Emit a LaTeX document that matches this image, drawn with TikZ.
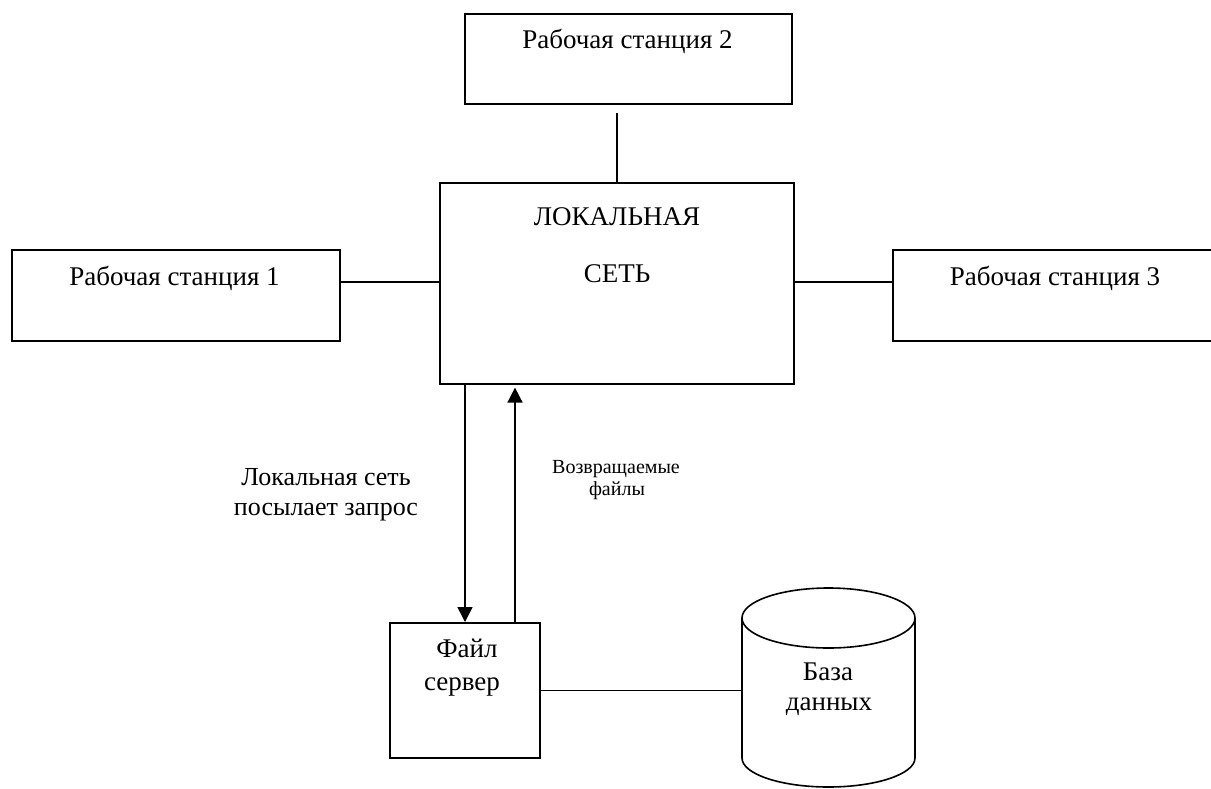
\documentclass[tikz,border=0pt]{standalone}
\usepackage{fontspec}
\setmainfont{Liberation Serif}
\usetikzlibrary{arrows.meta}
\begin{document}
\begin{tikzpicture}[x=1pt,y=-1pt,line width=1.6pt,
  box/.style={draw,rectangle,inner sep=0pt,anchor=north west},
  big/.style={anchor=base,inner sep=0pt,font=\fontsize{27}{32}\selectfont},
  mid/.style={anchor=base,inner sep=0pt,font=\fontsize{26}{30}\selectfont},
  small/.style={anchor=base,inner sep=0pt,font=\fontsize{20}{23}\selectfont},
  arr/.style={-{Triangle[length=15pt,width=15pt]}}]
\useasboundingbox (0,0) rectangle (1211,788);
\clip (0,0) rectangle (1211,788);

% boxes
\node[box,minimum width=328pt,minimum height=91pt] (ws1) at (11,249) {};
\node[box,minimum width=327pt,minimum height=90pt] (ws2) at (464,13) {};
\node[box,minimum width=330pt,minimum height=91pt] (ws3) at (892,249) {};
\node[box,minimum width=354pt,minimum height=201pt] (lan) at (439,182) {};
\node[box,minimum width=150pt,minimum height=135pt] (srv) at (389,622) {};
\node[inner sep=0pt,anchor=north west,minimum width=173pt,minimum height=199pt] (db) at (742,588) {};

% database cylinder
\draw (742,618) -- (742,758)
  arc[start angle=180,end angle=360,x radius=86.5pt,y radius=29pt]
  -- (915,618);
\draw (828.5,618) ellipse[x radius=86.5pt,y radius=30pt];

% labels
\node[big] (t1) at (174.5,285) {Рабочая станция 1};
\node[big] (t2) at (627.5,48) {Рабочая станция 2};
\node[big] (t3) at (1055,285) {Рабочая станция 3};
\node[big] (tl1) at (617,225) {ЛОКАЛЬНАЯ};
\node[big] (tl2) at (617,282) {СЕТЬ};
\node[big] (ts1) at (467,657) {Файл};
\node[big] (ts2) at (462,690) {сервер};
\node[big] (td1) at (828,680) {База};
\node[big] (td2) at (829,710) {данных};
\node[mid] (rq1) at (326,485) {Локальная сеть};
\node[mid] (rq2) at (326,515) {посылает запрос};
\node[small] (rt1) at (616,473) {Возвращаемые};
\node[small] (rt2) at (617,495) {файлы};

% connectors
\draw (lan.north) ++(0,-69) coordinate (c2) -- (lan.north);
\draw (ws1.east |- 0,282) -- (lan.west |- 0,282);
\draw (lan.east |- 0,282) -- (ws3.west |- 0,282);
\draw[arr] (lan.south -| 465,0) -- (srv.north -| 465,0);
\draw[arr,shorten >=3pt] (srv.north -| 515,0) -- (lan.south -| 515,0);
\draw (srv.east) -- (db.west |- srv.east);
\end{tikzpicture}
\end{document}
